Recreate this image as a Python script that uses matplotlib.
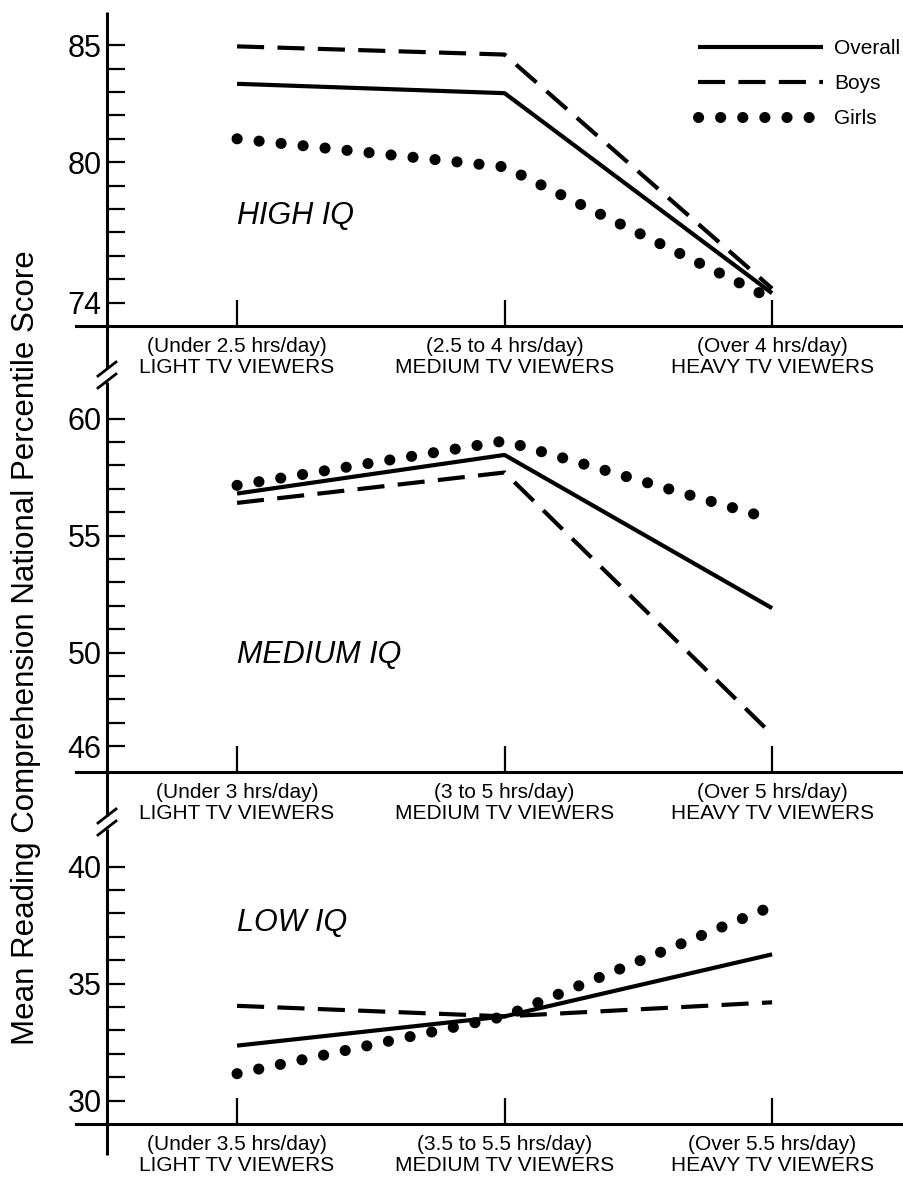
import matplotlib
matplotlib.use("Agg")
import matplotlib.pyplot as plt

plt.rcParams['font.family'] = ['Liberation Sans', 'DejaVu Sans']

# viewing groups on the x axis
groups = [0, 1, 2]

# HIGH IQ
high_overall = [83.35, 82.95, 74.4]
high_boys = [84.95, 84.6, 74.6]
high_girls = [81.0, 79.8, 74.15]
high_ticks = [74, 80, 85]
high_labels = ["(Under 2.5 hrs/day)\nLIGHT TV VIEWERS",
               "(2.5 to 4 hrs/day)\nMEDIUM TV VIEWERS",
               "(Over 4 hrs/day)\nHEAVY TV VIEWERS"]

# MEDIUM IQ
med_overall = [56.8, 58.45, 51.9]
med_boys = [56.4, 57.7, 46.5]
med_girls = [57.15, 59.05, 55.7]
med_ticks = [46, 50, 55, 60]
med_labels = ["(Under 3 hrs/day)\nLIGHT TV VIEWERS",
              "(3 to 5 hrs/day)\nMEDIUM TV VIEWERS",
              "(Over 5 hrs/day)\nHEAVY TV VIEWERS"]

# LOW IQ
low_overall = [32.35, 33.6, 36.25]
low_boys = [34.05, 33.6, 34.2]
low_girls = [31.15, 33.6, 38.3]
low_ticks = [30, 35, 40]
low_labels = ["(Under 3.5 hrs/day)\nLIGHT TV VIEWERS",
              "(3.5 to 5.5 hrs/day)\nMEDIUM TV VIEWERS",
              "(Over 5.5 hrs/day)\nHEAVY TV VIEWERS"]

W, H, DPI = 904, 1185, 100
PX_PER_UNIT = 23.4
fig = plt.figure(figsize=(W / DPI, H / DPI), dpi=DPI)


def add_px_axes(left, top, right, bottom):
    return fig.add_axes([left / W, 1 - bottom / H, (right - left) / W, (bottom - top) / H])


def panel(ymin, ymax, bottom_px, overall, boys, girls, ticks, labels, title, title_y):
    top_px = bottom_px - (ymax - ymin) * PX_PER_UNIT
    ax = add_px_axes(76, top_px, 904, bottom_px)
    ax.plot(groups, overall, color='black', lw=3, solid_capstyle='butt',
            label='Overall', clip_on=False)
    ax.plot(groups, boys, color='black', lw=3, linestyle=(0, (6.5, 3.2)),
            dash_capstyle='butt', label='Boys', clip_on=False)
    ax.plot(groups, girls, color='black', lw=8, linestyle=(0, (0.01, 1.98)),
            dash_capstyle='round', label='Girls', clip_on=False)
    ax.set_xlim(-0.602, 2.493)
    ax.set_ylim(ymin, ymax)
    for s in ('top', 'right'):
        ax.spines[s].set_visible(False)
    ax.spines['left'].set_position(('data', -0.486))
    ax.spines['left'].set_visible(False)
    ax.spines['bottom'].set_linewidth(2.2)

    ax.set_yticks(ticks)
    ax.set_yticks(range(ticks[0], ticks[-1] + 1), minor=True)
    ax.tick_params(axis='y', which='both', direction='in', length=13, width=1.6,
                   labelsize=22, pad=4)
    ax.set_xticks(groups, labels, fontsize=15, linespacing=1.1)
    ax.tick_params(axis='x', direction='in', length=19, width=1.6, pad=8)
    ax.patch.set_visible(False)
    ax.text(0, title_y, title, style='italic', fontsize=22, ha='left', va='center')
    return ax


ax1 = panel(73, 86.3, 326, high_overall, high_boys, high_girls,
            high_ticks, high_labels, 'HIGH IQ', 77.7)
ax2 = panel(44.9, 61.1, 772, med_overall, med_boys, med_girls,
            med_ticks, med_labels, 'MEDIUM IQ', 49.9)
ax3 = panel(29, 41.2, 1124, low_overall, low_boys, low_girls,
            low_ticks, low_labels, 'LOW IQ', 37.6)

ax1.legend(loc='upper left', bbox_to_anchor=(698 / W, 1 - 39 / H),
           bbox_transform=fig.transFigure, frameon=False, fontsize=15,
           handlelength=6.0, handletextpad=0.55, labelspacing=0.78,
           borderpad=0, borderaxespad=0)

# shared vertical axis with break marks between the panels
ov = fig.add_axes([0, 0, 1, 1])
ov.set_xlim(0, W)
ov.set_ylim(H, 0)
ov.axis('off')
ov.patch.set_visible(False)
x0 = 107
segments = [(12, 368), (382, 816), (829, 1155)]
for y_a, y_b in segments:
    ov.plot([x0, x0], [y_a, y_b], color='black', lw=2.2, solid_capstyle='butt')
for yc in (375, 822):
    for dy in (-6, 6):
        ov.plot([x0 - 9, x0 + 9], [yc + dy + 7, yc + dy - 7], color='black', lw=2.0)

fig.text(26 / W, 1 - 648 / H, 'Mean Reading Comprehension National Percentile Score',
         rotation=90, ha='center', va='center', fontsize=22.5)

fig.savefig('out.png', dpi=DPI, facecolor='white')
